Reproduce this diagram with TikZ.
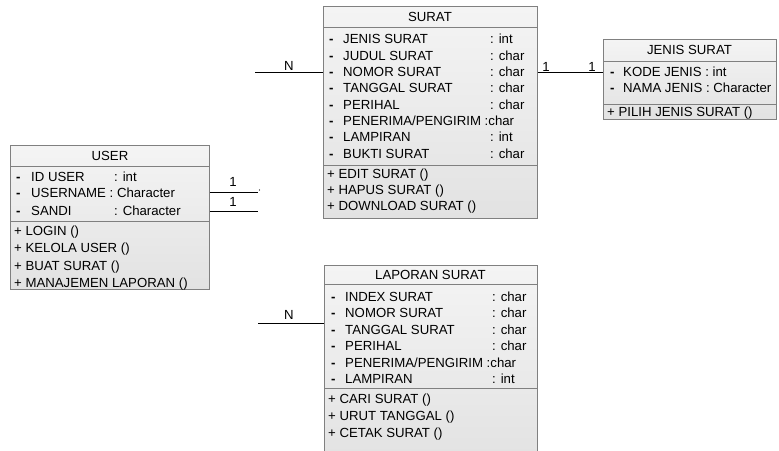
\documentclass[tikz,border=0pt]{standalone}
\usepackage{fontspec}
\setmainfont{Liberation Sans}
\definecolor{boxline}{RGB}{128,128,128}
\definecolor{boxtop}{RGB}{244,244,244}
\definecolor{boxbot}{RGB}{226,226,226}
\newcommand{\dsh}{\textbf{-}}
\begin{document}
\begin{tikzpicture}[x=1pt,y=-1pt,
  cls/.style={rectangle, draw=boxline, line width=0.9pt, top color=boxtop, bottom color=boxbot, anchor=north west, inner sep=0pt},
  div/.style={draw=boxline, line width=0.9pt},
  ttl/.style={anchor=west, inner sep=0pt, text height=9.4pt, text depth=0pt, font=\fontsize{13.2}{15}\selectfont},
  txt/.style={anchor=west, inner sep=0pt, text height=9.4pt, text depth=0pt, font=\fontsize{13.2}{15}\selectfont},
  conn/.style={draw=black, line width=0.8pt},
  lbl/.style={anchor=center, inner sep=0pt, text height=9.4pt, text depth=0pt, font=\fontsize{13.2}{15}\selectfont}]
\useasboundingbox (0,0) rectangle (779,450);
\clip (0,0) rectangle (779,450);
\tikzset{ttl/.style={anchor=center, inner sep=0pt, text height=9.4pt, text depth=0pt, font=\fontsize{13.2}{15}\selectfont}}

% ---------- SURAT ----------
\node[cls, minimum width=214pt, minimum height=212pt] (surat) at (323,6) {};
\node[ttl] (surat-t) at (430,16.5) {SURAT};
\draw[div] (surat.west |- 0,27) -- (surat.east |- 0,27);
\draw[div] (surat.west |- 0,165) -- (surat.east |- 0,165);
\foreach \y/\n/\t [count=\i] in {39/JENIS SURAT/{: int},55.5/JUDUL SURAT/{: char},72/NOMOR SURAT/{: char},88/TANGGAL SURAT/{: char},104.5/PERIHAL/{: char},137/LAMPIRAN/{: int},153.5/BUKTI SURAT/{: char}}{
  \node[txt] (sd\i) at (329,\y) {\dsh};
  \node[txt] (sn\i) at (343,\y) {\n};
  \node[txt] (st\i) at (490,\y) {\t};
}
\node[txt] (sdp) at (329,121) {\dsh};
\node[txt] (snp) at (343,121) {PENERIMA/PENGIRIM :char};
\node[txt] (sm1) at (327,174) {+ EDIT SURAT ()};
\node[txt] (sm2) at (327,190) {+ HAPUS SURAT ()};
\node[txt] (sm3) at (327,206) {+ DOWNLOAD SURAT ()};

% ---------- JENIS SURAT ----------
\node[cls, minimum width=173pt, minimum height=80pt] (jenis) at (603,39) {};
\node[ttl] (jenis-t) at (689.5,50) {JENIS SURAT};
\draw[div] (jenis.west |- 0,61) -- (jenis.east |- 0,61);
\draw[div] (jenis.west |- 0,104) -- (jenis.east |- 0,104);
\node[txt] (jd1) at (610,72) {\dsh};
\node[txt] (jn1) at (623,72) {KODE JENIS : int};
\node[txt] (jd2) at (610,88) {\dsh};
\node[txt] (jn2) at (623,88) {NAMA JENIS : Character};
\node[txt] (jm1) at (607,111.5) {+ PILIH JENIS SURAT ()};

% ---------- USER ----------
\node[cls, minimum width=199pt, minimum height=144pt] (user) at (10,145) {};
\node[ttl] (user-t) at (110,156) {USER};
\draw[div] (user.west |- 0,166) -- (user.east |- 0,166);
\draw[div] (user.west |- 0,221) -- (user.east |- 0,221);
\node[txt] (ud1) at (16,177) {\dsh};
\node[txt] (un1) at (31,177) {ID USER};
\node[txt] (ut1) at (114,177) {: int};
\node[txt] (ud2) at (16,193) {\dsh};
\node[txt] (un2) at (31,193) {USERNAME : Character};
\node[txt] (ud3) at (16,211) {\dsh};
\node[txt] (un3) at (31,211) {SANDI};
\node[txt] (ut3) at (114,211) {: Character};
\node[txt] (um1) at (14,231) {+ LOGIN ()};
\node[txt] (um2) at (14,248) {+ KELOLA USER ()};
\node[txt] (um3) at (14,266) {+ BUAT SURAT ()};
\node[txt] (um4) at (14,283) {+ MANAJEMEN LAPORAN ()};

% ---------- LAPORAN SURAT ----------
\node[cls, minimum width=213pt, minimum height=200pt] (lap) at (324,265) {};
\node[ttl] (lap-t) at (430.5,275) {LAPORAN SURAT};
\draw[div] (lap.west |- 0,284) -- (lap.east |- 0,284);
\draw[div] (lap.west |- 0,388) -- (lap.east |- 0,388);
\foreach \y/\n/\t [count=\i] in {297/INDEX SURAT/{: char},313/NOMOR SURAT/{: char},330/TANGGAL SURAT/{: char},346/PERIHAL/{: char},379/LAMPIRAN/{: int}}{
  \node[txt] (ld\i) at (331,\y) {\dsh};
  \node[txt] (ln\i) at (345,\y) {\n};
  \node[txt] (lt\i) at (492,\y) {\t};
}
\node[txt] (ldp) at (331,363) {\dsh};
\node[txt] (lnp) at (345,363) {PENERIMA/PENGIRIM :char};
\node[txt] (lm1) at (328,399) {+ CARI SURAT ()};
\node[txt] (lm2) at (328,416) {+ URUT TANGGAL ()};
\node[txt] (lm3) at (328,433) {+ CETAK SURAT ()};

% ---------- connectors ----------
\coordinate (sL) at (255,72);
\coordinate (u1E) at (258,192);
\coordinate (u2E) at (258,211);
\coordinate (lL) at (258,323);
\coordinate (lY) at (0,323);
\coordinate (uY1) at (0,192);
\coordinate (uY2) at (0,211);

\draw[conn] (sL) -- (surat.west |- sL);
\node[lbl] (nS) at (289,66) {N};
\draw[conn] (surat.east |- sn3) -- (jenis.west |- sn3);
\node[lbl] (oS) at (546,67) {1};
\node[lbl] (oJ) at (592,67) {1};
\draw[conn] (user.east |- uY1) -- (u1E);
\node[lbl] (oU1) at (233,182) {1};
\draw[conn] (user.east |- uY2) -- (u2E);
\node[lbl] (oU2) at (233,202) {1};
\fill (259.5,190) circle (0.6pt);
\draw[conn] (lL) -- (lap.west |- lY);
\node[lbl] (nL) at (289,315) {N};
\end{tikzpicture}
\end{document}
